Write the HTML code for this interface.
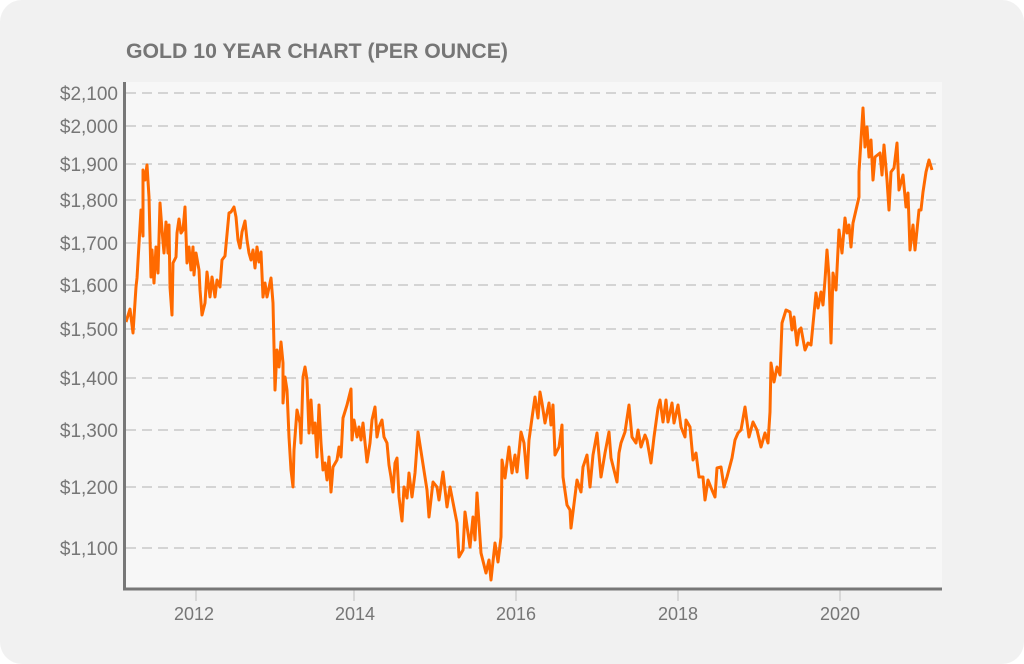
<!DOCTYPE html>
<html><head><meta charset="utf-8"><style>
html,body{margin:0;padding:0;background:#fff;}
svg{display:block;}
text{font-family:"Liberation Sans",sans-serif;fill:#767676;}
</style></head><body>
<svg width="1024" height="664" viewBox="0 0 1024 664">
<rect x="0" y="0" width="1024" height="664" rx="22" fill="#f1f1f1"/>
<text x="126" y="58" font-size="21" font-weight="bold" textLength="382" lengthAdjust="spacingAndGlyphs">GOLD 10 YEAR CHART (PER OUNCE)</text>
<rect x="125" y="82" width="817" height="507" fill="#f7f7f7"/>
<g stroke="#d4d4d4" stroke-width="2" stroke-dasharray="10,6">
<line x1="126" x2="942" y1="93" y2="93"/><line x1="126" x2="942" y1="126" y2="126"/>
<line x1="126" x2="942" y1="164" y2="164"/><line x1="126" x2="942" y1="200" y2="200"/>
<line x1="126" x2="942" y1="243" y2="243"/><line x1="126" x2="942" y1="285" y2="285"/>
<line x1="126" x2="942" y1="329" y2="329"/><line x1="126" x2="942" y1="378" y2="378"/>
<line x1="126" x2="942" y1="430" y2="430"/><line x1="126" x2="942" y1="487" y2="487"/>
<line x1="126" x2="942" y1="548" y2="548"/>
</g>
<g font-size="19" text-anchor="end">
<text x="118" y="100">$2,100</text><text x="118" y="133">$2,000</text>
<text x="118" y="171">$1,900</text><text x="118" y="207">$1,800</text>
<text x="118" y="250">$1,700</text><text x="118" y="292">$1,600</text>
<text x="118" y="336">$1,500</text><text x="118" y="385">$1,400</text>
<text x="118" y="437">$1,300</text><text x="118" y="494">$1,200</text>
<text x="118" y="555">$1,100</text>
</g>
<g stroke="#d0d0d0" stroke-width="1.5">
<line x1="196" x2="196" y1="590" y2="601"/><line x1="354" x2="354" y1="590" y2="601"/>
<line x1="516" x2="516" y1="590" y2="601"/><line x1="678" x2="678" y1="590" y2="601"/>
<line x1="840" x2="840" y1="590" y2="601"/>
</g>
<g font-size="18" text-anchor="middle">
<text x="194" y="620">2012</text><text x="355" y="620">2014</text>
<text x="516" y="620">2016</text><text x="678" y="620">2018</text>
<text x="840" y="620">2020</text>
</g>
<polyline fill="none" stroke="#ff6a00" stroke-width="3" stroke-linejoin="round" points="
126,322 130,309 133,333 136,287 137,278 141,210 143,236 143,170 145,180 147,165 149,197 151,277 152,250 154,283 156,247 158,273 160,203 162,230 164,253 166,222 168,253 169,225 170,287 172,315 173,263 176,257 177,233 179,219 181,233 183,230 185,207 187,263 189,247 191,270 193,247 194,275 196,253 199,270 200,290 202,315 205,303 207,272 210,297 212,277 215,297 217,280 220,287 222,260 225,256 229,213 231,212 234,207 236,217 238,240 240,248 242,232 245,221 247,240 249,253 251,260 253,250 255,268 257,247 259,262 261,252 263,297 265,283 267,297 271,278 273,303 275,390 277,350 279,367 281,342 283,363 283,403 285,377 287,390 289,437 291,470 293,487 294,450 297,410 300,423 301,443 303,377 305,367 307,380 309,433 311,400 313,433 315,423 317,457 319,405 321,443 323,470 325,463 327,480 329,457 331,492 333,467 337,460 339,447 341,457 343,418 347,405 351,389 352,440 354,420 357,437 359,427 361,440 363,423 367,462 370,443 372,420 375,407 377,437 379,427 382,420 384,437 387,443 389,465 391,477 393,492 395,463 397,458 399,497 402,521 404,487 407,498 409,473 412,497 415,473 418,432 427,490 429,517 433,482 437,487 439,500 443,472 447,507 450,487 457,523 459,557 463,550 465,512 470,547 473,517 475,540 477,493 481,553 486,573 489,560 491,580 495,543 498,562 501,537 502,460 505,478 509,447 512,473 515,455 517,472 521,432 524,443 527,478 529,440 532,418 535,397 538,418 540,392 542,403 545,423 549,403 551,425 553,405 555,455 559,447 562,425 563,477 567,505 570,510 571,528 577,480 581,492 583,467 587,455 590,487 593,455 597,433 601,477 605,453 609,432 611,458 617,482 619,453 621,443 625,432 629,405 632,437 636,443 638,430 641,447 645,435 647,440 651,463 654,437 658,408 660,400 663,422 666,400 668,422 672,403 674,423 678,405 681,427 685,437 686,420 690,427 693,460 696,453 699,477 703,477 705,500 708,480 712,490 715,497 717,468 721,467 724,487 727,477 732,458 735,440 738,433 741,430 745,407 749,437 753,422 757,430 761,447 765,433 768,443 770,412 771,363 774,382 777,367 780,375 782,323 786,310 790,312 792,330 794,317 797,345 799,330 801,328 805,350 808,343 811,345 816,293 818,308 821,292 823,305 825,280 827,250 829,277 831,343 833,273 836,290 839,230 842,253 845,218 847,233 849,225 851,247 853,223 859,197 859,172 863,108 865,147 867,127 869,157 871,140 873,180 875,157 880,153 882,175 884,145 887,180 889,210 891,172 894,168 897,143 899,190 903,175 906,207 908,193 910,250 913,225 915,250 919,210 921,210 923,192 926,172 929,160 932,170"/>
<line x1="124.5" y1="82" x2="124.5" y2="590" stroke="#777" stroke-width="3"/>
<line x1="123" y1="589" x2="942" y2="589" stroke="#777" stroke-width="3"/>
</svg>
</body></html>
